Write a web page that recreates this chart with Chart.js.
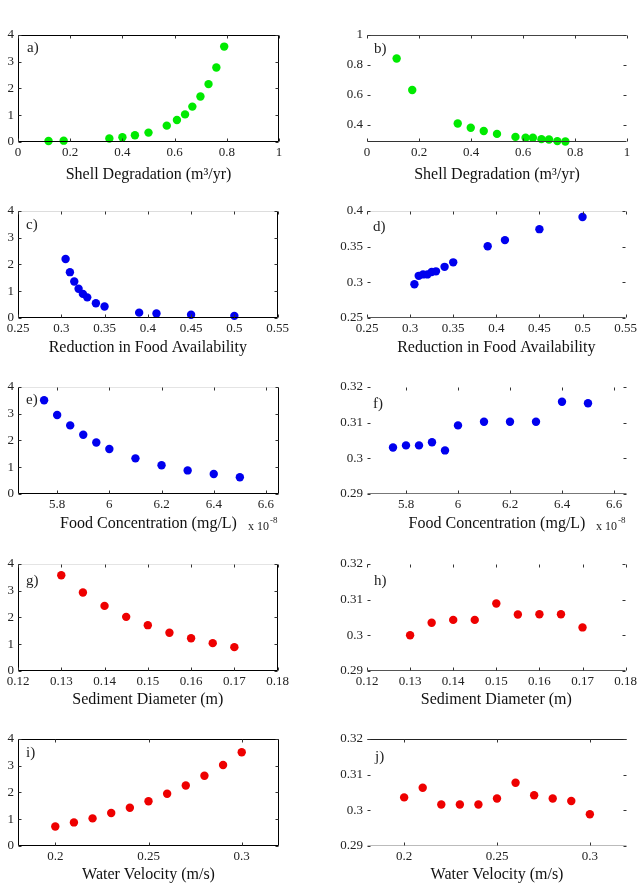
<!doctype html>
<html>

<head>
	<title>Sensitivity panels</title>
	<script src="https://cdn.jsdelivr.net/npm/chart.js@4/dist/chart.umd.min.js"></script>
	<style>
	body {
		margin: 0;
		background: #fff;
	}
	#page {
		position: relative;
		width: 640px;
		height: 886px;
		overflow: hidden;
	}
	canvas {
		position: absolute;
	}
	</style>
</head>

<body>
	<div id="page"></div>
	<script>
		// values
		const shellDegA = [0.117, 0.175, 0.35, 0.40, 0.448, 0.50, 0.57, 0.609, 0.64, 0.668, 0.699, 0.73, 0.76, 0.79];
		const panelA = [0.04, 0.05, 0.13, 0.18, 0.25, 0.35, 0.61, 0.82, 1.03, 1.32, 1.70, 2.16, 2.78, 3.56];
		const shellDegB = [0.114, 0.174, 0.349, 0.399, 0.449, 0.50, 0.571, 0.61, 0.638, 0.671, 0.70, 0.732, 0.763];
		const panelB = [0.842, 0.632, 0.409, 0.381, 0.359, 0.340, 0.320, 0.314, 0.314, 0.305, 0.303, 0.292, 0.289];

		const foodReduction = [0.305, 0.31, 0.315, 0.32, 0.325, 0.33, 0.34, 0.35, 0.39, 0.41, 0.45, 0.50];
		const panelC = [2.20, 1.71, 1.36, 1.09, 0.90, 0.77, 0.55, 0.43, 0.20, 0.17, 0.12, 0.08];
		const panelD = [0.2973, 0.309, 0.311, 0.311, 0.3144, 0.3153, 0.3216, 0.3279, 0.3505, 0.359, 0.3743, 0.3914];

		const foodConc = [5.75, 5.80, 5.85, 5.90, 5.95, 6.00, 6.10, 6.20, 6.30, 6.40, 6.50]; // x 1e-8
		const panelE = [3.50, 2.95, 2.56, 2.21, 1.92, 1.68, 1.33, 1.07, 0.88, 0.745, 0.625];
		const panelF = [0.3030, 0.3036, 0.3036, 0.3045, 0.3022, 0.3092, 0.3102, 0.3102, 0.3102, 0.3158, 0.3154];

		const sedDiameter = [0.130, 0.135, 0.140, 0.145, 0.150, 0.155, 0.160, 0.165, 0.170];
		const panelG = [3.57, 2.93, 2.43, 2.02, 1.71, 1.43, 1.22, 1.04, 0.89];
		const panelH = [0.3000, 0.3035, 0.3043, 0.3043, 0.3089, 0.3058, 0.3059, 0.3059, 0.3022];

		const waterVel = [0.20, 0.21, 0.22, 0.23, 0.24, 0.25, 0.26, 0.27, 0.28, 0.29, 0.30];
		const panelI = [0.73, 0.88, 1.03, 1.23, 1.43, 1.67, 1.95, 2.26, 2.62, 3.02, 3.50];
		const panelJ = [0.3036, 0.3063, 0.3016, 0.3016, 0.3016, 0.3033, 0.3077, 0.3042, 0.3033, 0.3026, 0.2989];

		// tick labels
		const ticksShell = [0, 0.2, 0.4, 0.6, 0.8, 1];
		const ticksFood = [0.25, 0.3, 0.35, 0.4, 0.45, 0.5, 0.55];
		const ticksConc = [5.8, 6, 6.2, 6.4, 6.6];
		const ticksSed = [0.12, 0.13, 0.14, 0.15, 0.16, 0.17, 0.18];
		const ticksVel = [0.2, 0.25, 0.3];
		const ticksLeftY = [0, 1, 2, 3, 4];
		const ticksB = [0.4, 0.6, 0.8, 1];
		const ticksD = [0.25, 0.3, 0.35, 0.4];
		const ticksRightY = [0.29, 0.3, 0.31, 0.32];

		const GREEN = '#00ea00';
		const BLUE = '#0000ee';
		const RED = '#ee0000';

		Chart.defaults.font.family = '"Liberation Serif", "Times New Roman", serif';
		Chart.defaults.color = '#222';

		const fmt = (v) => String(Number(v.toFixed(4)));

		// MATLAB style box with inward ticks, panel letter and exponent note
		const boxPlugin = {
			id: 'matlabBox',
			afterDraw(chart, args, opts) {
				const {ctx, chartArea, scales} = chart;
				const L = Math.round(chartArea.left) + 0.5;
				const R = Math.round(chartArea.right) - 0.5;
				const T = Math.round(chartArea.top) + 0.5;
				const B = Math.round(chartArea.bottom) - 0.5;
				ctx.save();
				ctx.lineWidth = 1;
				const line = (x1, y1, x2, y2, c) => {
					if (!c) return;
					ctx.strokeStyle = c;
					ctx.beginPath();
					ctx.moveTo(x1, y1);
					ctx.lineTo(x2, y2);
					ctx.stroke();
				};
				const s = opts.sides;
				line(L, T, R, T, s.top);
				line(L, B, R, B, s.bottom);
				line(L, T, L, B, s.left);
				line(R, T, R, B, s.right);
				scales.x.ticks.forEach((t) => {
					const px = Math.round(scales.x.getPixelForValue(t.value)) + 0.5;
					line(px, B, px, B - 3, '#333');
					line(px, T, px, T + 3, '#333');
				});
				scales.y.ticks.forEach((t) => {
					const py = Math.round(scales.y.getPixelForValue(t.value)) + 0.5;
					line(L, py, L + 3, py, '#333');
					line(R, py, R - 3, py, '#333');
				});
				ctx.fillStyle = '#222';
				ctx.textBaseline = 'middle';
				ctx.textAlign = 'left';
				ctx.font = '15px "Liberation Serif"';
				ctx.fillText(opts.label, chartArea.left + opts.lx, chartArea.top + opts.ly);
				if (opts.expo) {
					ctx.font = '12px "Liberation Serif"';
					const ex = chartArea.right - 31;
					const ey = chartArea.bottom + 33;
					ctx.fillText('x 10', ex, ey);
					const w = ctx.measureText('x 10').width;
					ctx.font = '9px "Liberation Serif"';
					ctx.fillText('-8', ex + w + 1, ey - 6);
				}
				ctx.restore();
			}
		};

		const panels = [
			{label: 'a)', col: 0, top: 31, x: shellDegA, y: panelA, color: GREEN, xMin: 0, xMax: 1, xTicks: ticksShell, yMin: 0, yMax: 4, yTicks: ticksLeftY, title: 'Shell Degradation (m³/yr)', titlePad: 0, lx: 9, ly: 13, sides: {top: '#000', bottom: '#000', left: '#000', right: '#000'}},
			{label: 'b)', col: 1, top: 31, x: shellDegB, y: panelB, color: GREEN, xMin: 0, xMax: 1, xTicks: ticksShell, yMin: 0.286, yMax: 1, yTicks: ticksB, title: 'Shell Degradation (m³/yr)', titlePad: 0, lx: 7, ly: 14, sides: {top: '#444', bottom: '#333'}},
			{label: 'c)', col: 0, top: 207, x: foodReduction, y: panelC, color: BLUE, xMin: 0.25, xMax: 0.55, xTicks: ticksFood, yMin: 0, yMax: 4, yTicks: ticksLeftY, title: 'Reduction in Food Availability', titlePad: 3, lx: 8, ly: 14, sides: {top: '#ddd', bottom: '#000', left: '#000', right: '#000'}},
			{label: 'd)', col: 1, top: 207, x: foodReduction, y: panelD, color: BLUE, xMin: 0.25, xMax: 0.55, xTicks: ticksFood, yMin: 0.25, yMax: 0.4, yTicks: ticksD, title: 'Reduction in Food Availability', titlePad: 3, lx: 6, ly: 16, sides: {top: '#ddd', bottom: '#555'}},
			{label: 'e)', col: 0, top: 383, x: foodConc, y: panelE, color: BLUE, xMin: 5.65, xMax: 6.65, xTicks: ticksConc, yMin: 0, yMax: 4, yTicks: ticksLeftY, title: 'Food Concentration (mg/L)', titlePad: 3, lx: 8, ly: 13, expo: true, sides: {top: '#e4e4e4', bottom: '#000', left: '#000', right: '#000'}},
			{label: 'f)', col: 1, top: 383, x: foodConc, y: panelF, color: BLUE, xMin: 5.65, xMax: 6.65, xTicks: ticksConc, yMin: 0.29, yMax: 0.32, yTicks: ticksRightY, title: 'Food Concentration (mg/L)', titlePad: 3, lx: 6, ly: 17, expo: true, sides: {bottom: '#777'}},
			{label: 'g)', col: 0, top: 560, x: sedDiameter, y: panelG, color: RED, xMin: 0.12, xMax: 0.18, xTicks: ticksSed, yMin: 0, yMax: 4, yTicks: ticksLeftY, title: 'Sediment Diameter (m)', titlePad: 4, lx: 8, ly: 17, sides: {top: '#e4e4e4', bottom: '#000', left: '#000', right: '#000'}},
			{label: 'h)', col: 1, top: 560, x: sedDiameter, y: panelH, color: RED, xMin: 0.12, xMax: 0.18, xTicks: ticksSed, yMin: 0.29, yMax: 0.32, yTicks: ticksRightY, title: 'Sediment Diameter (m)', titlePad: 4, lx: 7, ly: 17, sides: {bottom: '#555'}},
			{label: 'i)', col: 0, top: 735, x: waterVel, y: panelI, color: RED, xMin: 0.18, xMax: 0.32, xTicks: ticksVel, yMin: 0, yMax: 4, yTicks: ticksLeftY, title: 'Water Velocity (m/s)', titlePad: 4, lx: 8, ly: 14, sides: {top: '#000', bottom: '#000', left: '#000', right: '#000'}},
			{label: 'j)', col: 1, top: 735, x: waterVel, y: panelJ, color: RED, xMin: 0.18, xMax: 0.32, xTicks: ticksVel, yMin: 0.29, yMax: 0.32, yTicks: ticksRightY, title: 'Water Velocity (m/s)', titlePad: 4, lx: 8, ly: 18, sides: {top: '#222', bottom: '#bbb'}}
		];

		const PAD_TOP = 8;
		const PLOT_H = 111;
		const AXIS_H = 42;

		panels.forEach((p) => {
			const canvas = document.createElement('canvas');
			const left = p.col === 0 ? 0 : 320;
			const width = p.col === 0 ? 292 : 320;
			const yWidth = p.col === 0 ? 18 : 47;
			const height = PAD_TOP + PLOT_H + AXIS_H;
			canvas.width = width;
			canvas.height = height;
			canvas.style.left = left + 'px';
			canvas.style.top = (p.top - PAD_TOP) + 'px';
			document.getElementById('page').appendChild(canvas);

			new Chart(canvas.getContext('2d'), {
				type: 'scatter',
				data: {
					datasets: [{
						data: p.x.map((v, i) => ({x: v, y: p.y[i]})),
						backgroundColor: p.color,
						borderWidth: 0,
						pointRadius: 4.2,
						clip: false
					}]
				},
				plugins: [boxPlugin],
				options: {
					responsive: false,
					animation: false,
					devicePixelRatio: 1,
					layout: {
						padding: {top: PAD_TOP, right: 13, left: 0, bottom: 0}
					},
					plugins: {
						legend: {display: false},
						tooltip: {enabled: false},
						matlabBox: {label: p.label, lx: p.lx, ly: p.ly, expo: p.expo, sides: p.sides}
					},
					scales: {
						x: {
							type: 'linear',
							min: p.xMin,
							max: p.xMax,
							afterBuildTicks: (scale) => {
								scale.ticks = p.xTicks.map((v) => ({value: v}));
							},
							afterFit: (scale) => {
								scale.height = AXIS_H;
							},
							grid: {display: false, drawTicks: false},
							border: {display: false},
							ticks: {
								padding: 3,
								maxRotation: 0,
								autoSkip: false,
								font: {size: 13},
								callback: (v) => fmt(v)
							},
							title: {
								display: true,
								text: p.title,
								font: {size: 16},
								color: '#111',
								padding: {top: 0, bottom: p.titlePad}
							}
						},
						y: {
							type: 'linear',
							min: p.yMin,
							max: p.yMax,
							afterBuildTicks: (scale) => {
								scale.ticks = p.yTicks.map((v) => ({value: v}));
							},
							afterFit: (scale) => {
								scale.width = yWidth;
							},
							grid: {display: false, drawTicks: false},
							border: {display: false},
							ticks: {
								padding: 4,
								autoSkip: false,
								font: {size: 13},
								callback: (v) => fmt(v)
							}
						}
					}
				}
			});
		});
	</script>
</body>

</html>
